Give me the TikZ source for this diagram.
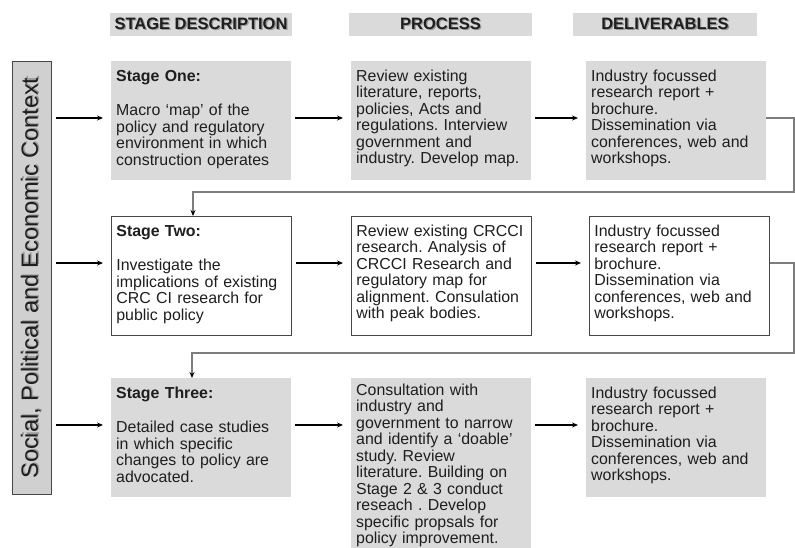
\documentclass[tikz,border=0pt]{standalone}
\usepackage{fontspec}
\setmainfont{Liberation Sans}
\usetikzlibrary{arrows.meta}
\definecolor{boxgray}{RGB}{218,218,218}
\definecolor{sidegray}{RGB}{208,208,208}
\definecolor{linegray}{RGB}{125,125,125}
\definecolor{edgegray}{RGB}{70,70,70}
\definecolor{inkgray}{RGB}{30,30,30}
\newcommand{\shadowed}[1]{\makebox[0pt][l]{\hspace{1.3pt}\raisebox{-1.3pt}{\textcolor{black!40}{#1}}}#1}
\frenchspacing
\hyphenpenalty=10000

\begin{document}
\begin{tikzpicture}[x=1pt, y=-1pt,
    head/.style={fill=boxgray, minimum height=23, inner sep=0, text=inkgray, font=\fontsize{16.5}{16.5}\selectfont\bfseries},
    stagebox/.style={anchor=north west, fill=boxgray, minimum width=180, text width=170, inner xsep=5, inner ysep=7,
        align=left, text height=13, text depth=92, text=inkgray, font=\fontsize{15.9}{16.5}\selectfont},
    openbox/.style={stagebox, fill=white, draw=edgegray, line width=0.8pt},
    arrow/.style={-{Stealth[length=6pt, width=5pt]}, line width=1.5pt, shorten <=4pt, shorten >=8pt},
    link/.style={-{Stealth[length=6pt, width=5pt, color=black]}, draw=linegray, line width=1.2pt}
]
    \useasboundingbox (0,0) rectangle (795,548);

    % Column headings
    \node[head, minimum width=182] (h_stage) at (201, 24.5) {\shadowed{STAGE DESCRIPTION}};
    \node[head, minimum width=183] (h_proc) at (440.5, 24.5) {\shadowed{PROCESS}};
    \node[head, minimum width=184] (h_deliv) at (665, 24.5) {\shadowed{DELIVERABLES}};

    % Context bar on the left
    \node[rotate=90, fill=sidegray, draw=edgegray, line width=1pt, minimum width=432, minimum height=39,
        inner sep=0, text=inkgray, font=\fontsize{23.5}{23.5}\selectfont] (side) at (31.5, 278)
        {\shadowed{Social, Political and Economic Context}};

    % Stage one
    \node[stagebox] (stage1) at (111, 61) {\textbf{Stage One:}\\[18pt]
        Macro ‘map’ of the\\policy and regulatory\\environment in which\\construction operates};
    \node[stagebox] (proc1) at (351, 61) {Review existing\\literature, reports,\\policies, Acts and\\regulations. Interview\\government and\\industry. Develop map.};
    \node[stagebox] (deliv1) at (586, 61) {Industry focussed\\research report +\\brochure.\\Dissemination via\\conferences, web and\\workshops.};

    % Stage two
    \node[openbox] (stage2) at (111, 216) {\textbf{Stage Two:}\\[18pt]
        Investigate the\\implications of existing\\CRC CI research for\\public policy};
    \node[openbox, minimum width=179] (proc2) at (351, 216) {Review existing CRCCI\\research. Analysis of\\CRCCI Research and\\regulatory map for\\alignment. Consulation\\with peak bodies.};
    \node[openbox, minimum width=178] (deliv2) at (589, 216) {Industry focussed\\research report +\\brochure.\\Dissemination via\\conferences, web and\\workshops.};

    % Stage three
    \node[stagebox] (stage3) at (111, 378) {\textbf{Stage Three:}\\[18pt]
        Detailed case studies\\in which specific\\changes to policy are\\advocated.};
    \node[stagebox, text height=10, text depth=200] (proc3) at (351, 378) {Consultation with\\industry and\\government to narrow\\and identify a ‘doable’\\study. Review\\literature. Building on\\Stage 2 \& 3 conduct\\reseach . Develop\\specific propsals for\\policy improvement.};
    \node[stagebox] (deliv3) at (586, 378) {Industry focussed\\research report +\\brochure.\\Dissemination via\\conferences, web and\\workshops.};

    % Arrow heights and bends
    \coordinate (row1) at (0, 118);
    \coordinate (row2) at (0, 263);
    \coordinate (row3) at (0, 425);
    \coordinate (rail) at (794, 0);
    \coordinate (bend1) at (193, 192);
    \coordinate (bend2) at (192, 353);

    \draw[arrow] (side.south |- row1) -- (stage1.west |- row1);
    \draw[arrow] (stage1.east |- row1) -- (proc1.west |- row1);
    \draw[arrow] (proc1.east |- row1) -- (deliv1.west |- row1);

    \draw[arrow] (side.south |- row2) -- (stage2.west |- row2);
    \draw[arrow] (stage2.east |- row2) -- (proc2.west |- row2);
    \draw[arrow] (proc2.east |- row2) -- (deliv2.west |- row2);

    \draw[arrow] (side.south |- row3) -- (stage3.west |- row3);
    \draw[arrow] (stage3.east |- row3) -- (proc3.west |- row3);
    \draw[arrow] (proc3.east |- row3) -- (deliv3.west |- row3);

    % Feedback to the next stage
    \draw[link] (deliv1.east |- row1) -- (rail |- row1) |- (bend1) -- (bend1 |- stage2.north);
    \draw[link] (deliv2.east |- row2) -- (rail |- row2) |- (bend2) -- (bend2 |- stage3.north);
\end{tikzpicture}
\end{document}
